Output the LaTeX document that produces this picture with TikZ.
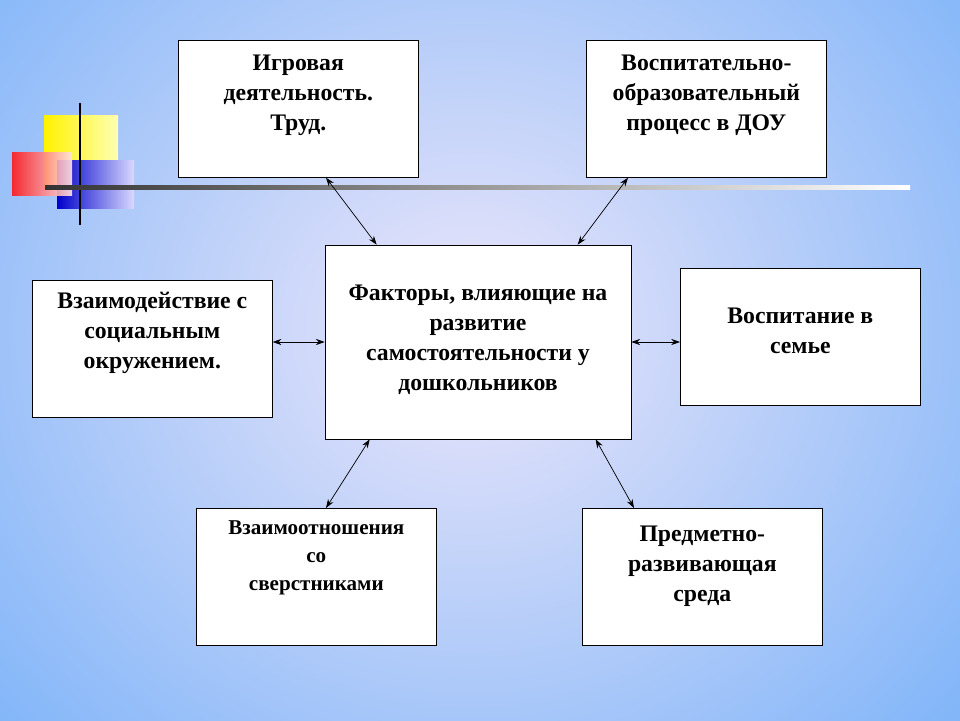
\documentclass[tikz,border=0pt]{standalone}
\usepackage{fontspec}
\setmainfont{Liberation Serif}
\usetikzlibrary{arrows.meta,calc}
\definecolor{bgblue}{RGB}{100,168,248}
\definecolor{bglight}{RGB}{236,230,250}
\tikzset{
  factor/.style={draw=black, fill=white, thin, minimum width=4.8cm, minimum height=2.74cm, inner sep=0pt},
  factortext/.style={anchor=north, align=center, font=\bfseries\fontsize{13.5}{17}\selectfont, inner sep=0pt},
  link/.style={{Stealth[length=5pt,width=3.5pt]}-{Stealth[length=5pt,width=3.5pt]}, thin}
}
\begin{document}
\begin{tikzpicture}[x=0.02cm,y=-0.02cm]
\useasboundingbox (0,0) rectangle (960,720);
% background
\begin{scope}
\clip (0,0) rectangle (960,720);
\fill[bgblue] (0,0) rectangle (960,720);
\shade[inner color=bglight, outer color=bgblue] (470,330) ellipse (820 and 760);
\end{scope}

% decoration
\shade[left color=yellow!90!orange, right color=yellow!30] (44,115) rectangle (118,188);
\shade[left color=blue!80!black, right color=blue!15] (57,160) rectangle (134,208);
\shade[left color=red!90, right color=red!10, opacity=.9] (12,152) rectangle (72,195);
\draw[line width=1.3pt] (80,103) -- (80,225);
\shade[left color=black!80, right color=white] (45,185.5) rectangle (910,189);

% boxes
\node[factor, minimum width=6.12cm, minimum height=3.88cm] (c) at (478,342) {};
\node[factortext] (ct) at ($(c.north)+(0,40)$) {Факторы, влияющие на\\развитие\\самостоятельности у\\дошкольников};
\node[factor, anchor=north west] (game) at (178,40) {};
\node[factortext] (gamet) at ($(game.north)+(0,15)$) {Игровая\\деятельность.\\Труд.};
\node[factor, anchor=north west] (dou) at (586,40) {};
\node[factortext] (dout) at ($(dou.north)+(0,15)$) {Воспитательно-\\образовательный\\процесс в ДОУ};
\node[factor, anchor=north west] (soc) at (32,280) {};
\node[factortext] (soct) at ($(soc.north)+(0,12)$) {Взаимодействие с\\социальным\\окружением.};
\node[factor, anchor=north west] (fam) at (680,268) {};
\node[factortext] (famt) at ($(fam.north)+(0,40)$) {Воспитание в\\семье};
\node[factor, anchor=north west] (peer) at (196,508) {};
\node[factortext, font=\bfseries\fontsize{12}{16}\selectfont] (peert) at ($(peer.north)+(0,12)$) {Взаимоотношения\\со\\сверстниками};
\node[factor, anchor=north west] (env) at (582,508) {};
\node[factortext] (envt) at ($(env.north)+(0,18)$) {Предметно-\\развивающая\\среда};

% connectors
\draw[link] ($(c.north west)+(52,0)$) -- ($(game.south west)+(148,0)$);
\draw[link] ($(c.north west)+(253,0)$) -- ($(dou.south west)+(42,0)$);
\draw[link] (soc.east |- c) -- (c.west);
\draw[link] (c.east) -- (fam.west |- c);
\draw[link] ($(c.south west)+(45,0)$) -- ($(peer.north west)+(130,0)$);
\draw[link] ($(c.south west)+(271,0)$) -- ($(env.north west)+(52,0)$);
\end{tikzpicture}
\end{document}
